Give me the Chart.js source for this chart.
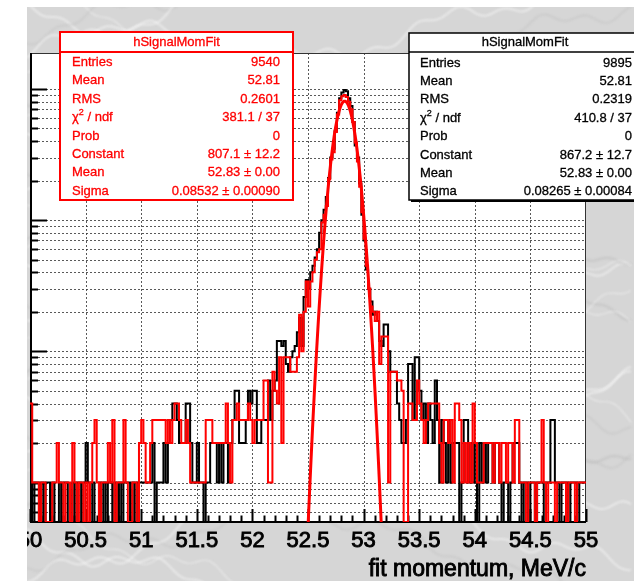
<!DOCTYPE html>
<html>
<head>
<meta charset="utf-8">
<title>hSignalMomFit</title>
<script src="https://cdn.jsdelivr.net/npm/chart.js@4.4.1/dist/chart.umd.min.js"></script>
<style>
  html, body { margin: 0; padding: 0; background: #fff; }
  #wrap { width: 634px; height: 581px; }
</style>
</head>
<body>
<div id="wrap"><canvas id="momChart" width="634" height="581"></canvas></div>
<script>
// histogram binning: 250 bins of 0.02 MeV/c between 50 and 55
const xMin = 50, xMax = 55;
const binCount = 250;
const yMin = 0.5, yMax = 1880;

// bin contents, second sample (red)
const countsRed = [
  4,1,1,1,0,1,1,0,0,0,  1,1,2,1,1,0,1,1,0,2,  1,0,1,1,0,1,0,1,2,3,  1,0,1,1,1,2,1,3,0,1,
  1,1,3,1,0,0,1,1,0,2,  3,2,1,1,2,3,3,3,3,3,  3,2,3,2,3,4,4,3,2,2,  3,2,1,1,1,1,1,1,1,3,
  3,3,2,2,2,2,2,2,4,2,  1,3,3,4,3,3,3,3,4,3,  2,3,3,3,3,6,6,1,1,7,  5,4,9,2,9,9,9,7,7,7,
  9,19,10,20,34,22,34,40,50,57,  60,96,110,128,205,290,330,470,640,820,
  880,900,870,800,700,560,390,280,180,115,  72,45,30,22,20,17,20,8,13,13,
  13,1,7,7,7,6,6,5,0,0,  4,4,3,3,6,4,3,2,3,4,  4,4,4,4,2,1,3,3,2,3,  1,4,4,3,1,2,1,2,1,4,
  2,1,1,1,2,2,2,2,1,2,  2,1,2,2,1,2,2,1,3,3,  1,1,1,0,1,1,1,0,1,1,  3,1,0,1,1,1,0,1,1,1,
  1,0,1,1,1,0,1,1,1,1
];

// bin contents, first sample (black)
const countsBlack = [
  1,0,1,1,0,1,0,1,1,0,  1,0,0,1,0,1,1,0,0,1,  0,1,1,0,1,2,1,0,1,0,  0,1,0,1,0,1,1,0,1,0,
  1,0,1,1,1,0,1,0,1,1,  1,1,1,1,1,2,0,1,1,1,  2,1,2,3,4,4,3,2,2,2,  4,4,2,1,1,2,1,1,0,1,
  1,2,2,2,1,2,1,2,2,1,  2,3,5,5,2,2,2,3,5,4,  5,5,2,2,3,3,3,6,3,5,  6,12,12,11,12,8,7,9,10,11,
  14,18,11,26,35,30,40,45,52,60,  80,100,120,150,210,300,350,480,660,850,
  940,980,960,850,740,560,370,300,190,110,  70,42,30,24,19,20,17,12,11,16,
  16,10,7,7,7,4,3,2,2,3,  8,8,3,9,9,5,3,4,2,4,  3,2,6,3,1,3,2,1,3,1,  2,2,2,0,1,3,3,1,2,1,
  2,0,2,1,2,1,2,2,1,2,  2,1,0,1,1,0,1,2,2,2,  1,0,1,1,0,1,1,0,1,1,  1,0,1,1,3,3,1,1,0,1,
  1,1,0,1,1,1,0,1,1,1
];

// gaus fit result on the red sample
const fitConstant = 807.1, fitMean = 52.83, fitSigma = 0.08532;
const fitRange = [52.4, 53.2];

const xTickValues = [50, 50.5, 51, 51.5, 52, 52.5, 53, 53.5, 54, 54.5, 55];
const xTickLabels = ['50', '50.5', '51', '51.5', '52', '52.5', '53', '53.5', '54', '54.5', '55'];
const xTitle = 'fit momentum, MeV/c';

const statTitle = 'hSignalMomFit';
const statNames = ['Entries', 'Mean', 'RMS', 'χ² / ndf', 'Prob', 'Constant', 'Mean', 'Sigma'];
const statValuesRed = ['9540', '52.81', '0.2601', '381.1 / 37', '0', '807.1 ± 12.2', '52.83 ± 0.00', '0.08532 ± 0.00090'];
const statValuesBlack = ['9895', '52.81', '0.2319', '410.8 / 37', '0', '867.2 ± 12.7', '52.83 ± 0.00', '0.08265 ± 0.00084'];

const FONT = '"Liberation Sans", Arial, Helvetica, sans-serif';

// outline of a histogram: two corners per bin
function histOutline(counts) {
  const w = (xMax - xMin) / binCount;
  const pts = [];
  counts.forEach((c, i) => {
    const v = c > 0 ? c : yMin; // empty bins sit on the axis floor
    pts.push({ x: xMin + i * w, y: v });
    pts.push({ x: xMin + (i + 1) * w, y: v });
  });
  return pts;
}

function fitCurve() {
  const pts = [];
  const n = 320;
  for (let i = 0; i <= n; i++) {
    const x = fitRange[0] + (fitRange[1] - fitRange[0]) * i / n;
    const d = (x - fitMean) / fitSigma;
    pts.push({ x: x, y: fitConstant * Math.exp(-0.5 * d * d) });
  }
  return pts;
}

function logGridValues() {
  const vals = [];
  for (let e = -1; e <= 3; e++) {
    for (let m = 1; m <= 9; m++) {
      const v = m * Math.pow(10, e);
      if (v > yMin * 1.0001 && v < yMax) vals.push({ v: v, major: m === 1 });
    }
  }
  return vals;
}

// heavier text, like the axis labels of the pad
function boldish(ctx, text, x, y, w) {
  ctx.lineWidth = w;
  ctx.strokeStyle = ctx.fillStyle;
  ctx.strokeText(text, x, y);
  ctx.fillText(text, x, y);
}

function drawMarble(ctx, x0, y0, w, h) {
  ctx.save();
  ctx.beginPath();
  ctx.rect(x0, y0, w, h);
  ctx.clip();
  ctx.fillStyle = '#d6d6d6';
  ctx.fillRect(x0, y0, w, h);
  ctx.filter = 'blur(1px)';
  for (let k = 0; k < 30; k++) {
    ctx.beginPath();
    const base = y0 - 40 + k * 22;
    for (let x = x0; x <= x0 + w; x += 4) {
      const yy = base + 0.35 * (x - x0) * Math.sin(k * 1.3)
        + 9 * Math.sin(x / 23 + k * 2.1) + 4 * Math.sin(x / 7 + k);
      if (x === x0) ctx.moveTo(x, yy); else ctx.lineTo(x, yy);
    }
    ctx.strokeStyle = k % 3 === 0 ? 'rgba(185,185,185,0.5)' : 'rgba(250,250,250,0.55)';
    ctx.lineWidth = k % 2 ? 1.2 : 2;
    ctx.stroke();
  }
  ctx.restore();
}

function drawStatBox(ctx, box, color, values, shadow) {
  ctx.save();
  if (shadow) {
    ctx.fillStyle = color;
    ctx.fillRect(box.x + 2, box.y + 2, box.w, box.h);
  }
  ctx.fillStyle = '#fff';
  ctx.fillRect(box.x, box.y, box.w, box.h);
  ctx.strokeStyle = color;
  ctx.lineWidth = box.lw;
  ctx.strokeRect(box.x, box.y, box.w, box.h);
  ctx.beginPath();
  ctx.moveTo(box.x, box.sep);
  ctx.lineTo(box.x + box.w, box.sep);
  ctx.stroke();

  ctx.fillStyle = color;
  ctx.font = '13px ' + FONT;
  ctx.textBaseline = 'alphabetic';
  ctx.textAlign = 'center';
  boldish(ctx, statTitle, box.x + box.w / 2, box.sep - 6, 0.3);

  statNames.forEach((name, i) => {
    const by = box.row0 + i * box.step;
    ctx.textAlign = 'left';
    if (name.indexOf('²') >= 0) {
      const parts = name.split('²');
      ctx.font = '13px ' + FONT;
      boldish(ctx, parts[0], box.labelX, by, 0.3);
      let cx = box.labelX + ctx.measureText(parts[0]).width;
      ctx.font = '9px ' + FONT;
      boldish(ctx, '2', cx, by - 6, 0.3);
      cx += ctx.measureText('2').width;
      ctx.font = '13px ' + FONT;
      boldish(ctx, parts[1], cx, by, 0.3);
    } else {
      ctx.font = '13px ' + FONT;
      boldish(ctx, name, box.labelX, by, 0.3);
    }
    ctx.textAlign = 'right';
    boldish(ctx, values[i], box.valueX, by, 0.3);
  });
  ctx.restore();
}

const rootPad = {
  id: 'rootPad',
  beforeDraw(chart) {
    const { ctx, chartArea: a, scales: { x, y } } = chart;
    ctx.save();
    ctx.fillStyle = '#fff';
    ctx.fillRect(0, 0, chart.width, chart.height);
    drawMarble(ctx, 27, 7, chart.width - 27, chart.height - 7);
    ctx.fillStyle = '#fff';
    ctx.fillRect(a.left, a.top, a.right - a.left, a.bottom - a.top);

    // dotted grid
    ctx.setLineDash([2, 2]);
    ctx.strokeStyle = 'rgba(60,60,60,0.85)';
    ctx.lineWidth = 1;
    xTickValues.forEach(v => {
      if (v <= xMin || v >= xMax) return;
      const px = Math.round(x.getPixelForValue(v)) + 0.5;
      ctx.beginPath(); ctx.moveTo(px, a.top); ctx.lineTo(px, a.bottom); ctx.stroke();
    });
    logGridValues().forEach(g => {
      const py = Math.round(y.getPixelForValue(g.v)) + 0.5;
      ctx.beginPath(); ctx.moveTo(a.left, py); ctx.lineTo(a.right, py); ctx.stroke();
    });
    ctx.setLineDash([]);

    // frame
    ctx.strokeStyle = '#333';
    ctx.lineWidth = 1;
    ctx.strokeRect(a.left + 0.5, a.top + 0.5, a.right - a.left - 1, a.bottom - a.top);
    ctx.strokeStyle = '#000';
    ctx.lineWidth = 2;
    ctx.beginPath();
    ctx.moveTo(a.left + 1, a.top);
    ctx.lineTo(a.left + 1, a.bottom);
    ctx.lineTo(a.right, a.bottom);
    ctx.stroke();

    // y ticks (log), pointing into the frame
    logGridValues().forEach(g => {
      const py = Math.round(y.getPixelForValue(g.v)) + 0.5;
      ctx.beginPath();
      ctx.moveTo(a.left, py);
      ctx.lineTo(a.left + (g.major ? 17 : 8), py);
      ctx.stroke();
    });

    // x ticks every 0.1, longer every 0.5
    for (let i = 0; i <= 50; i++) {
      const px = Math.round(x.getPixelForValue(xMin + i * 0.1)) + 0.5;
      const len = i % 5 === 0 ? 13 : 6.5;
      ctx.beginPath();
      ctx.moveTo(px, a.bottom);
      ctx.lineTo(px, a.bottom - len);
      ctx.stroke();
    }

    // x labels and title
    ctx.fillStyle = '#000';
    ctx.font = '22px ' + FONT;
    ctx.textAlign = 'center';
    ctx.textBaseline = 'alphabetic';
    xTickValues.forEach((v, i) => {
      boldish(ctx, xTickLabels[i], x.getPixelForValue(v), 547, 0.9);
    });
    ctx.font = '23px ' + FONT;
    ctx.textAlign = 'right';
    boldish(ctx, xTitle, a.right, 576, 0.9);
    ctx.restore();
  },
  afterDraw(chart) {
    const ctx = chart.ctx;
    drawStatBox(ctx, { x: 60, y: 32, w: 233, h: 168, sep: 52, lw: 2, row0: 66, step: 18.4, labelX: 72, valueX: 280 },
      '#ff0000', statValuesRed, false);
    drawStatBox(ctx, { x: 409, y: 33, w: 232, h: 167, sep: 52, lw: 1.5, row0: 66.5, step: 18.4, labelX: 420, valueX: 632 },
      '#000000', statValuesBlack, true);
    // page margin outside the pad
    ctx.save();
    ctx.fillStyle = '#fff';
    ctx.fillRect(0, 0, 27, chart.height);
    ctx.fillRect(0, 0, chart.width, 7);
    ctx.restore();
  }
};

document.addEventListener('DOMContentLoaded', function() {
  const ctx = document.getElementById('momChart').getContext('2d');
  new Chart(ctx, {
    type: 'line',
    data: {
      datasets: [
        {
          label: 'gaus',
          data: fitCurve(),
          borderColor: '#ff0000',
          borderWidth: 3,
          pointRadius: 0,
          tension: 0.2
        },
        {
          label: 'red',
          data: histOutline(countsRed),
          borderColor: '#ff0000',
          borderWidth: 2,
          pointRadius: 0,
          tension: 0
        },
        {
          label: 'black',
          data: histOutline(countsBlack),
          borderColor: '#000000',
          borderWidth: 2,
          pointRadius: 0,
          tension: 0
        }
      ]
    },
    options: {
      responsive: false,
      animation: false,
      devicePixelRatio: 1,
      layout: { padding: { left: 30, top: 53, right: 48, bottom: 59 } },
      scales: {
        x: { type: 'linear', min: xMin, max: xMax, display: false },
        y: { type: 'logarithmic', min: yMin, max: yMax, display: false }
      },
      plugins: {
        legend: { display: false },
        tooltip: { enabled: false }
      }
    },
    plugins: [rootPad]
  });
});
</script>
</body>
</html>
